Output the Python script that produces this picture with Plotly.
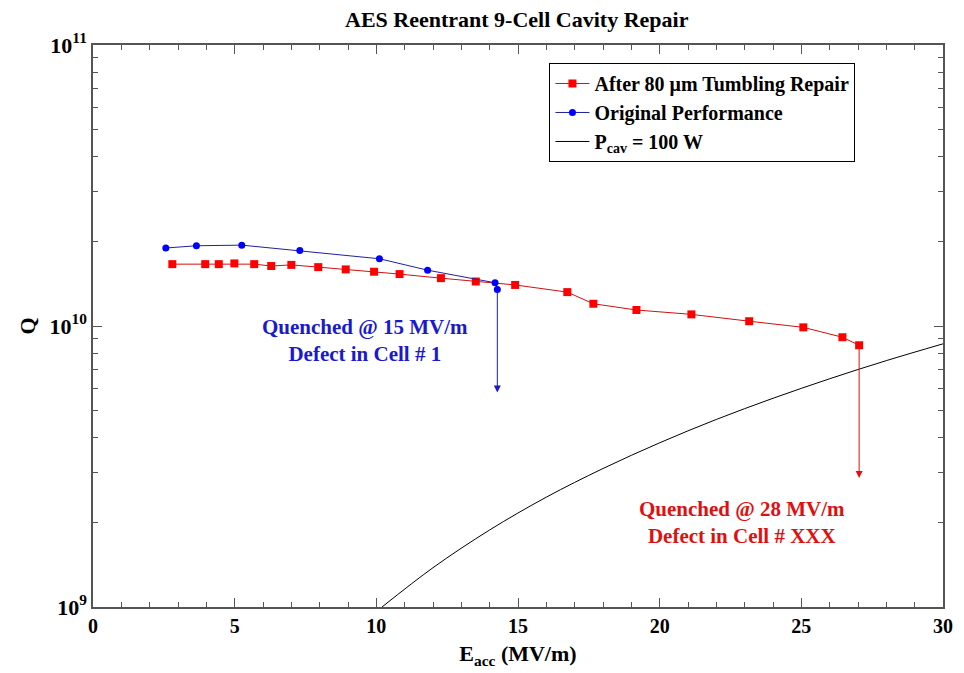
import numpy as np
import plotly.graph_objects as go

# ---- data ----
after_E = [2.80, 3.96, 4.44, 4.99, 5.69, 6.29, 7.00, 7.95, 8.92, 9.92, 10.82, 12.28,
           13.51, 14.90, 16.74, 17.66, 19.18, 21.12, 23.16, 25.07, 26.45, 27.04]
after_Q = [1.66e10, 1.66e10, 1.66e10, 1.67e10, 1.66e10, 1.635e10, 1.65e10, 1.62e10,
           1.59e10, 1.56e10, 1.53e10, 1.48e10, 1.44e10, 1.40e10, 1.32e10, 1.20e10,
           1.14e10, 1.10e10, 1.04e10, 9.89e9, 9.12e9, 8.54e9]

orig_E = [2.57, 3.65, 5.25, 7.30, 10.11, 11.81, 14.19, 14.27]
orig_Q = [1.895e10, 1.93e10, 1.94e10, 1.855e10, 1.735e10, 1.58e10, 1.425e10, 1.35e10]

pcav_E = [10.2, 12, 14, 16, 18, 20, 22, 24, 26, 28, 30]
pcav_Q = [1.0e9, 1.38e9, 1.88e9, 2.46e9, 3.11e9, 3.84e9, 4.65e9, 5.53e9, 6.49e9, 7.53e9, 8.64e9]

# quench arrows: (E, Q start, Q end)
quench_blue = (14.27, 1.35e10, 5.8e9)
quench_red = (27.04, 8.54e9, 2.88e9)

x_ticks = [0, 5, 10, 15, 20, 25, 30]
y_ticks = [1e9, 1e10, 1e11]
y_ticktext = ["10<sup>9</sup>", "10<sup>10</sup>", "10<sup>11</sup>"]

FONT = "Liberation Serif, Times New Roman, serif"

fig = go.Figure()
fig.add_trace(go.Scatter(
    x=after_E, y=after_Q, mode="lines+markers",
    name="After 80 \u03bcm Tumbling Repair",
    line=dict(color="#d01010", width=1),
    marker=dict(symbol="square", size=8, color="#ff0000")))
fig.add_trace(go.Scatter(
    x=orig_E, y=orig_Q, mode="lines+markers",
    name="Original Performance",
    line=dict(color="#2020a0", width=1),
    marker=dict(symbol="circle", size=7, color="#0000ff")))
fig.add_trace(go.Scatter(
    x=pcav_E, y=pcav_Q, mode="lines", line_shape="spline",
    name="P<sub>cav</sub> = 100 W",
    line=dict(color="black", width=1)))

for (e, q0, q1), col in [(quench_blue, "#1a1acc"), (quench_red, "#e01010")]:
    fig.add_annotation(x=e, y=np.log10(q1), ax=e, ay=np.log10(q0),
                       xref="x", yref="y", axref="x", ayref="y",
                       text="", showarrow=True, arrowhead=2, arrowsize=1.4,
                       arrowwidth=1, arrowcolor=col)

fig.add_annotation(x=9.6, y=np.log10(8.9e9), xref="x", yref="y",
                   text="Quenched @ 15 MV/m<br>Defect in Cell # 1", showarrow=False,
                   font=dict(family=FONT, size=21, color="#1a1acc", weight="bold"),
                   align="center")
fig.add_annotation(x=22.9, y=np.log10(2.0e9), xref="x", yref="y",
                   text="Quenched @ 28 MV/m<br>Defect in Cell # XXX", showarrow=False,
                   font=dict(family=FONT, size=21, color="#e01010", weight="bold"),
                   align="center")

axis_common = dict(
    showgrid=False, zeroline=False, showline=True, linecolor="#555555", linewidth=1.5,
    mirror="ticks", ticks="inside", ticklen=9, tickcolor="#555555", tickwidth=1,
)

fig.update_xaxes(range=[0, 30], tickvals=x_ticks,
                 tickfont=dict(family=FONT, size=20, color="black", weight="bold"),
                 minor=dict(ticks="inside", ticklen=5, dtick=1, tickcolor="#555555"),
                 title=dict(text="E<sub>acc</sub> (MV/m)", standoff=10,
                            font=dict(family=FONT, size=22, color="black", weight="bold")),
                 **axis_common)
fig.update_yaxes(type="log", range=[9, 11], tickvals=y_ticks, ticktext=y_ticktext,
                 tickfont=dict(family=FONT, size=22, color="black", weight="bold"),
                 minor=dict(ticks="inside", ticklen=5, tickcolor="#555555",
                            tickmode="array",
                            tickvals=[m * 10 ** p for p in (9, 10) for m in range(2, 10)]),
                 title=dict(text="Q", standoff=8,
                            font=dict(family=FONT, size=22, color="black", weight="bold")),
                 **axis_common)

fig.update_layout(
    width=964, height=673,
    margin=dict(l=93, r=21, t=45, b=66),
    paper_bgcolor="white", plot_bgcolor="white",
    title=dict(text="AES Reentrant 9-Cell Cavity Repair", x=0.536, xanchor="center",
               y=0.972, yanchor="middle",
               font=dict(family=FONT, size=22, color="black", weight="bold")),
    legend=dict(x=0.537, y=0.968, xanchor="left", yanchor="top",
                bordercolor="black", borderwidth=1, bgcolor="white",
                font=dict(family=FONT, size=20, color="black", weight="bold"),
                tracegroupgap=0, itemwidth=34),
    showlegend=True,
)

fig.write_html("out.html")
